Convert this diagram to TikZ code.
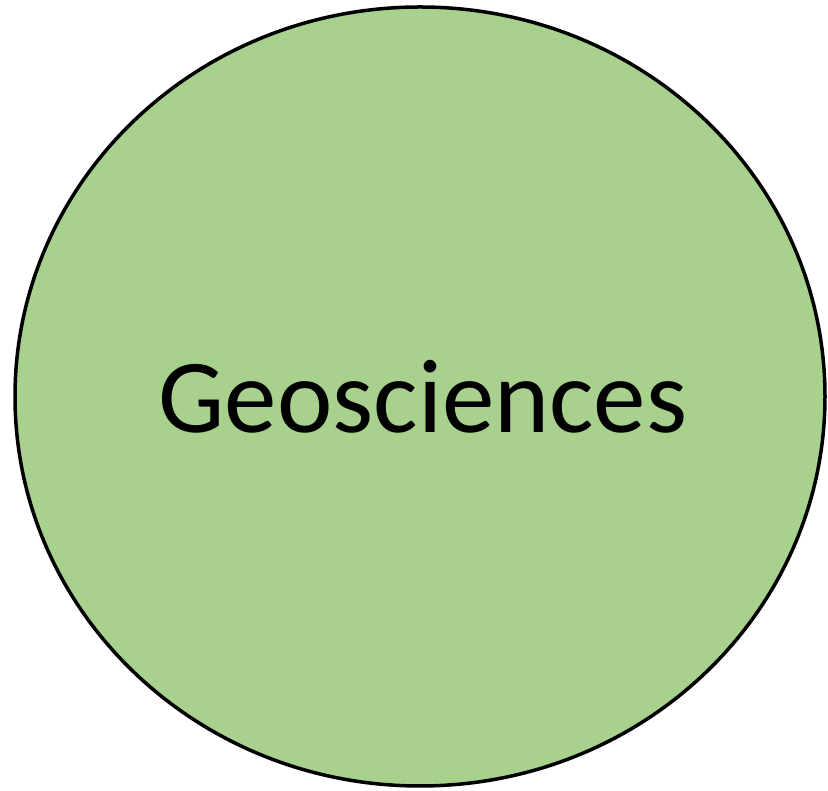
\documentclass[tikz,border=0pt]{standalone}
\usepackage{fontspec}
\setmainfont{Carlito}
\usetikzlibrary{shapes.geometric}
\definecolor{geogreen}{HTML}{A9D18E}
\tikzset{
  bubble/.style={ellipse, draw=black, line width=3.5pt, fill=geogreen, inner sep=0pt, outer sep=0pt, minimum width=810pt, minimum height=779pt},
  label/.style={font=\fontsize{105}{115}\selectfont, text=black, inner sep=0pt, anchor=base}
}
\begin{document}
\begin{tikzpicture}[x=1pt,y=1pt]
\useasboundingbox (0,0) rectangle (828,791);
\node[bubble] (c) at (420,394.5) {};
\node[label] (t) at (423,358) {Geosciences};
\end{tikzpicture}
\end{document}
